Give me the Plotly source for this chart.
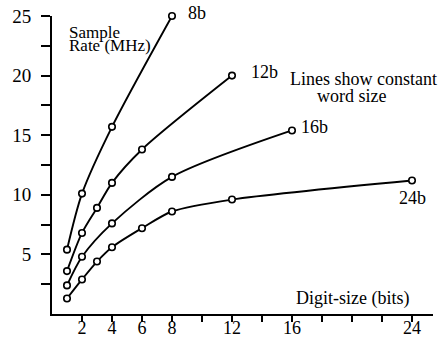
import plotly.graph_objects as go

# Data
x_8b = [1, 2, 4, 8]
y_8b = [5.4, 10.1, 15.7, 25.0]
x_12b = [1, 2, 3, 4, 6, 12]
y_12b = [3.6, 6.8, 8.9, 11.0, 13.8, 20.0]
x_16b = [1, 2, 4, 8, 16]
y_16b = [2.4, 4.8, 7.6, 11.5, 15.4]
x_24b = [1, 2, 3, 4, 6, 8, 12, 24]
y_24b = [1.3, 2.9, 4.4, 5.6, 7.2, 8.6, 9.6, 11.2]

x_tickvals = [2, 4, 6, 8, 10, 12, 14, 16, 18, 20, 22, 24]
x_ticktext = ["2", "4", "6", "8", "", "12", "", "16", "", "", "", "24"]
y_tickvals = [2.5, 5, 7.5, 10, 12.5, 15, 17.5, 20, 22.5, 25]
y_ticktext = ["", "5", "", "10", "", "15", "", "20", "", "25"]

W, H = 444, 338
ML, MR, MT, MB = 52, 11, 16, 24
FONT = "Liberation Serif"

fig = go.Figure()
for xs, ys in [(x_8b, y_8b), (x_12b, y_12b), (x_16b, y_16b), (x_24b, y_24b)]:
    fig.add_trace(go.Scatter(
        x=xs, y=ys, mode="lines+markers",
        line=dict(color="black", width=1.9, shape="spline", smoothing=0.8),
        marker=dict(symbol="circle", size=6.5, color="white",
                    line=dict(color="black", width=1.6)),
        showlegend=False, cliponaxis=False,
    ))

pw = W - ML - MR
ph = H - MT - MB


def px(xp, yp):
    return (xp - ML) / pw, (H - MB - yp) / ph


def note(text, xp, yp, xanchor="center", size=18):
    x, y = px(xp, yp)
    fig.add_annotation(text=text, x=x, y=y, xref="paper", yref="paper",
                       xanchor=xanchor, yanchor="middle", showarrow=False,
                       font=dict(family=FONT, size=size, color="black"))


note("Sample", 67, 33, xanchor="left", size=17)
note("Rate (MHz)", 67, 46, xanchor="left", size=17)
note("8b", 197, 13)
note("12b", 264, 72)
note("Lines show constant", 439, 79, xanchor="right")
note("word size", 351, 96)
note("16b", 314, 127)
note("24b", 412, 198)
note("Digit-size (bits)", 352, 298)

fig.update_layout(
    width=W, height=H,
    margin=dict(l=ML, r=MR, t=MT, b=MB, autoexpand=False),
    paper_bgcolor="white", plot_bgcolor="white",
    font=dict(family=FONT, size=18, color="black"),
    xaxis=dict(range=[0, 25.4], tickvals=x_tickvals, ticktext=x_ticktext,
               ticks="outside", ticklen=6, tickwidth=1.5, tickcolor="black",
               showline=True, linecolor="black", linewidth=1.8,
               showgrid=False, zeroline=False, automargin=False,
               ticklabeloverflow="allow", ticklabelstandoff=-10,
               tickfont=dict(family=FONT, size=18, color="black")),
    yaxis=dict(range=[0, 25], tickvals=y_tickvals, ticktext=y_ticktext,
               ticks="outside", ticklen=9, tickwidth=1.5, tickcolor="black",
               showline=True, linecolor="black", linewidth=1.8,
               showgrid=False, zeroline=False, ticklabelstandoff=6,
               automargin=False, ticklabeloverflow="allow",
               tickfont=dict(family=FONT, size=19, color="black")),
)

fig.write_html("out.html", config={"displayModeBar": False},
               post_script="document.body.style.margin='0';")
